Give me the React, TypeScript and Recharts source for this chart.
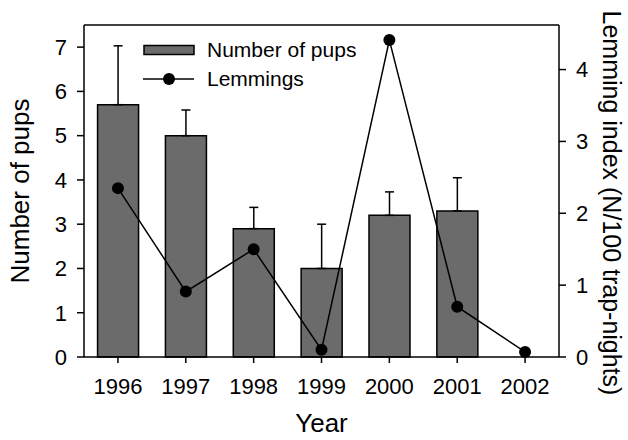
import {
  ComposedChart,
  Bar,
  Line,
  XAxis,
  YAxis,
  ErrorBar,
  ReferenceLine,
} from "recharts";

const years = ["1996", "1997", "1998", "1999", "2000", "2001", "2002"];
const pups = [5.7, 5.0, 2.9, 2.0, 3.2, 3.3, null];
const pupsError = [1.33, 0.58, 0.48, 1.0, 0.53, 0.75, null];
const lemmings = [2.35, 0.91, 1.5, 0.1, 4.41, 0.7, 0.07];

const pupTicks = [0, 1, 2, 3, 4, 5, 6, 7];
const lemmingTicks = [0, 1, 2, 3, 4];

const FONT = '"Liberation Sans", Arial, sans-serif';

const data = years.map((year, i) => ({
  year,
  pups: pups[i],
  err: pupsError[i] == null ? null : [0, pupsError[i]],
  lemmings: lemmings[i],
}));

// legend drawn over the plot, top left corner
function LegendBox() {
  return (
    <div
      style={{
        position: "absolute",
        left: 143,
        top: 36,
        fontFamily: FONT,
        fontSize: 21,
        color: "#000",
        lineHeight: "28px",
      }}
    >
      <div style={{ display: "flex", alignItems: "center" }}>
        <svg width={64} height={28}>
          <rect x={1} y={9.5} width={50} height={9} fill="#6b6b6b" stroke="#000" strokeWidth={1.5} />
        </svg>
        <span>Number of pups</span>
      </div>
      <div style={{ display: "flex", alignItems: "center", marginTop: 1 }}>
        <svg width={64} height={28}>
          <line x1={0} y1={14} x2={51} y2={14} stroke="#000" strokeWidth={1.5} />
          <circle cx={26} cy={14} r={6} fill="#000" />
        </svg>
        <span>Lemmings</span>
      </div>
    </div>
  );
}

export default function App() {
  return (
    <div style={{ position: "absolute", left: 0, top: 0, width: 628, height: 440, background: "#fff" }}>
      <ComposedChart
        width={628}
        height={440}
        data={data}
        margin={{ top: 25, right: 0, bottom: 0, left: 0 }}
        barCategoryGap="20%"
        style={{ fontFamily: FONT }}
      >
        <XAxis
          dataKey="year"
          height={83}
          stroke="#000"
          strokeWidth={1.5}
          tickSize={6}
          tickMargin={15}
          tick={{ fill: "#000", fontSize: 22 }}
          label={({ viewBox }: any) => (
            <text
              x={viewBox.x + viewBox.width / 2}
              y={viewBox.y + 75}
              textAnchor="middle"
              fontSize={26}
              fill="#000"
              fontFamily={FONT}
            >
              Year
            </text>
          )}
        />
        <YAxis
          yAxisId="left"
          width={84}
          domain={[0, 7.5]}
          ticks={pupTicks}
          stroke="#000"
          strokeWidth={1.5}
          tickSize={7}
          tickMargin={10}
          tick={{ fill: "#000", fontSize: 22 }}
          label={({ viewBox }: any) => {
            const cx = viewBox.x + 20;
            const cy = viewBox.y + viewBox.height / 2;
            return (
              <text
                x={cx}
                y={cy}
                transform={`rotate(-90 ${cx} ${cy})`}
                textAnchor="middle"
                dominantBaseline="central"
                fontSize={26}
                fill="#000"
                fontFamily={FONT}
              >
                Number of pups
              </text>
            );
          }}
        />
        <YAxis
          yAxisId="right"
          orientation="right"
          width={69}
          domain={[0, 4.62]}
          ticks={lemmingTicks}
          stroke="#000"
          strokeWidth={1.5}
          tickSize={7}
          tickMargin={10}
          tick={{ fill: "#000", fontSize: 22 }}
          label={({ viewBox }: any) => {
            const cx = viewBox.x + 53;
            const cy = viewBox.y + viewBox.height / 2 + 12;
            return (
              <text
                x={cx}
                y={cy}
                transform={`rotate(90 ${cx} ${cy})`}
                textAnchor="middle"
                dominantBaseline="central"
                fontSize={25}
                fill="#000"
                fontFamily={FONT}
              >
                Lemming index (N/100 trap-nights)
              </text>
            );
          }}
        />
        <ReferenceLine yAxisId="left" y={7.5} stroke="#000" strokeWidth={1.5} />
        <Bar
          yAxisId="left"
          dataKey="pups"
          name="Number of pups"
          fill="#6b6b6b"
          stroke="#000"
          strokeWidth={1.5}
          isAnimationActive={false}
        >
          <ErrorBar dataKey="err" width={4.5} stroke="#000" strokeWidth={1.5} />
        </Bar>
        <Line
          yAxisId="right"
          dataKey="lemmings"
          name="Lemmings"
          type="linear"
          stroke="#000"
          strokeWidth={1.5}
          dot={{ r: 6, fill: "#000", stroke: "#000", strokeWidth: 0 }}
          activeDot={false}
          isAnimationActive={false}
        />
      </ComposedChart>
      <LegendBox />
    </div>
  );
}
